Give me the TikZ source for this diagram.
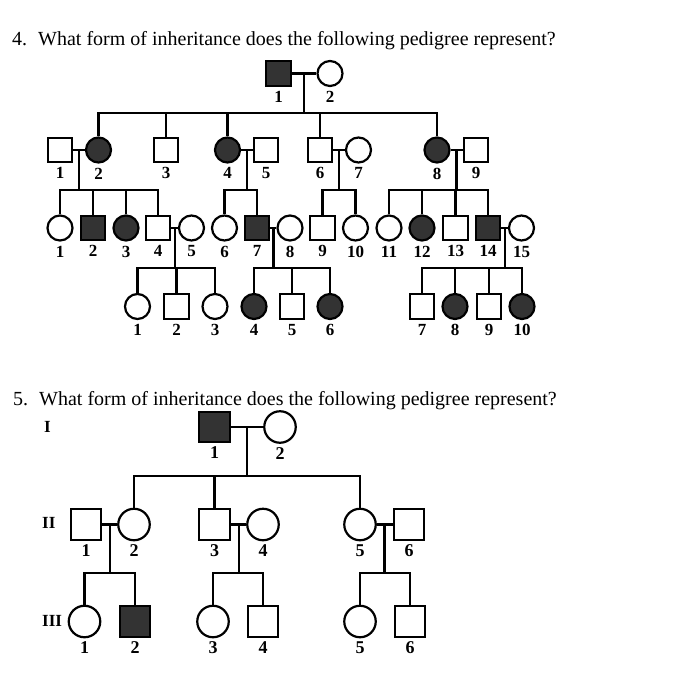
\documentclass[tikz,border=0pt]{standalone}
\usepackage{fontspec}
\setmainfont{Liberation Serif}
\usepackage{tikz}
\usepackage{xcolor}
\usetikzlibrary{calc}

\tikzset{
  person/.style={draw, line width=2.2pt, inner sep=0pt, label distance=0pt},
  male/.style={person, rectangle, minimum size=24.5pt},
  female/.style={person, circle, minimum size=25pt},
  bigmale/.style={person, rectangle, minimum size=30.5pt},
  bigfemale/.style={person, circle, minimum size=31.5pt},
  affected/.style={fill=black!80},
  num/.style={font=\fontsize{17}{17}\selectfont\bfseries, inner sep=1pt, yshift=-3pt},
  bignum/.style={font=\fontsize{18}{18}\selectfont\bfseries, inner sep=1pt, yshift=-2.5pt},
  gen/.style={font=\fontsize{17}{17}\selectfont\bfseries, inner sep=0pt, anchor=west},
  question/.style={font=\fontsize{20}{24}\selectfont, inner sep=0pt, anchor=base west},
  line/.style={line width=2.2pt}
}

\begin{document}
\begin{tikzpicture}[x=1pt, y=-1pt]
    \useasboundingbox (0,0) rectangle (700,695);

    % question 4
    \node[question] (q4) at (12,46) {4.\hspace{0.55em}What form of inheritance does the following pedigree represent?};

    \node[male, affected, label={[num]below:1}] (A1) at (278.5,73.5) {};
    \node[female, label={[num]below:2}] (A2) at (330,73.5) {};

    \node[male, label={[num]below:1}] (B1) at (60,150) {};
    \node[female, affected, label={[num]below:2}] (B2) at (98.5,150) {};
    \node[male, label={[num]below:3}] (B3) at (166,150) {};
    \node[female, affected, label={[num]below:4}] (B4) at (227.5,150) {};
    \node[male, label={[num]below:5}] (B5) at (266,150) {};
    \node[male, label={[num]below:6}] (B6) at (320,150) {};
    \node[female, label={[num]below:7}] (B7) at (358.5,150) {};
    \node[female, affected, label={[num]below:8}] (B8) at (437,150) {};
    \node[male, label={[num]below:9}] (B9) at (476,150) {};

    \node[female, label={[num]below:1}] (C1) at (60,228) {};
    \node[male, affected, label={[num]below:2}] (C2) at (93,228) {};
    \node[female, affected, label={[num]below:3}] (C3) at (126,228) {};
    \node[male, label={[num]below:4}] (C4) at (158,228) {};
    \node[female, label={[num]below:5}] (C5) at (191.5,228) {};
    \node[female, label={[num]below:6}] (C6) at (224.5,228) {};
    \node[male, affected, label={[num]below:7}] (C7) at (257,228) {};
    \node[female, label={[num]below:8}] (C8) at (290,228) {};
    \node[male, label={[num]below:9}] (C9) at (322.5,228) {};
    \node[female, label={[num]below:10}] (C10) at (355.5,228) {};
    \node[female, label={[num]below:11}] (C11) at (389,228) {};
    \node[female, affected, label={[num]below:12}] (C12) at (422,228) {};
    \node[male, label={[num]below:13}] (C13) at (455.5,228) {};
    \node[male, affected, label={[num]below:14}] (C14) at (488,228) {};
    \node[female, label={[num]below:15}] (C15) at (521.5,228) {};

    \node[female, label={[num]below:1}] (D1) at (137.5,306.5) {};
    \node[male, label={[num]below:2}] (D2) at (176.5,306.5) {};
    \node[female, label={[num]below:3}] (D3) at (215,306.5) {};
    \node[female, affected, label={[num]below:4}] (D4) at (254,306.5) {};
    \node[male, label={[num]below:5}] (D5) at (292,306.5) {};
    \node[female, affected, label={[num]below:6}] (D6) at (330,306.5) {};
    \node[male, label={[num]below:7}] (D7) at (422,306.5) {};
    \node[female, affected, label={[num]below:8}] (D8) at (455,306.5) {};
    \node[male, label={[num]below:9}] (D9) at (489,306.5) {};
    \node[female, affected, label={[num]below:10}] (D10) at (522,306.5) {};

    \coordinate (barA) at (0,113);
    \coordinate (barB) at (0,190);
    \coordinate (barC) at (0,268);

    % couples and drops
    \coordinate (mA) at ($(A1)!.5!(A2)$);
    \coordinate (mB12) at ($(B1)!.5!(B2)$);
    \coordinate (mB45) at ($(B4)!.5!(B5)$);
    \coordinate (mB67) at ($(B6)!.5!(B7)$);
    \coordinate (mB89) at ($(B8)!.5!(B9)$);
    \coordinate (mC45) at ($(C4)!.5!(C5)$);
    \coordinate (mC78) at ($(C7)!.5!(C8)$);
    \coordinate (mC1415) at ($(C14)!.5!(C15)$);

    \draw[line] (A1) -- (A2);
    \draw[line] (B1) -- (B2);
    \draw[line] (B4) -- (B5);
    \draw[line] (B6) -- (B7);
    \draw[line] (B8) -- (B9);
    \draw[line] (C4) -- (C5);
    \draw[line] (C7) -- (C8);
    \draw[line] (C14) -- (C15);

    \draw[line] (mA) -- (mA |- barA);
    \draw[line] (B2.north) |- (B8 |- barA) -- (B8.north);
    \draw[line] (B3.north) -- (B3 |- barA);
    \draw[line] (B4.north) -- (B4 |- barA);
    \draw[line] (B6.north) -- (B6 |- barA);

    \draw[line] (mB12) -- (mB12 |- barB);
    \draw[line] (C1.north) |- (C4 |- barB) -- (C4.north);
    \draw[line] (C2.north) -- (C2 |- barB);
    \draw[line] (C3.north) -- (C3 |- barB);

    \draw[line] (mB45) -- (mB45 |- barB);
    \draw[line] (C6.north) |- (C7 |- barB) -- (C7.north);

    \draw[line] (mB67) -- (mB67 |- barB);
    \draw[line] (C9.north) |- (C10 |- barB) -- (C10.north);

    \draw[line] (mB89) -- (mB89 |- barB);
    \draw[line] (C11.north) |- (C14 |- barB) -- (C14.north);
    \draw[line] (C12.north) -- (C12 |- barB);
    \draw[line] (C13.north) -- (C13 |- barB);

    \draw[line] (mC45) -- (mC45 |- barC);
    \draw[line] (D1.north) |- (D3 |- barC) -- (D3.north);
    \draw[line] (D2.north) -- (D2 |- barC);

    \draw[line] (mC78) -- (mC78 |- barC);
    \draw[line] (D4.north) |- (D6 |- barC) -- (D6.north);
    \draw[line] (D5.north) -- (D5 |- barC);

    \draw[line] (mC1415) -- (mC1415 |- barC);
    \draw[line] (D7.north) |- (D10 |- barC) -- (D10.north);
    \draw[line] (D8.north) -- (D8 |- barC);
    \draw[line] (D9.north) -- (D9 |- barC);

    % question 5
    \node[question] (q5) at (13,405) {5.\hspace{0.55em}What form of inheritance does the following pedigree represent?};

    \node[gen] (gI) at (44,427) {I};
    \node[gen] (gII) at (42,523) {II};
    \node[gen] (gIII) at (42,621) {III};

    \node[bigmale, affected, label={[bignum]below:1}] (P1) at (214.5,427) {};
    \node[bigfemale, label={[bignum]below:2}] (P2) at (280,427) {};

    \node[bigmale, label={[bignum]below:1}] (Q1) at (86,524.5) {};
    \node[bigfemale, label={[bignum]below:2}] (Q2) at (134,524.5) {};
    \node[bigmale, label={[bignum]below:3}] (Q3) at (214.5,524.5) {};
    \node[bigfemale, label={[bignum]below:4}] (Q4) at (263,524.5) {};
    \node[bigfemale, label={[bignum]below:5}] (Q5) at (360,524.5) {};
    \node[bigmale, label={[bignum]below:6}] (Q6) at (409,524.5) {};

    \node[bigfemale, label={[bignum]below:1}] (R1) at (84.5,621.5) {};
    \node[bigmale, affected, label={[bignum]below:2}] (R2) at (135,621.5) {};
    \node[bigfemale, label={[bignum]below:3}] (R3) at (213,621.5) {};
    \node[bigmale, label={[bignum]below:4}] (R4) at (263,621.5) {};
    \node[bigfemale, label={[bignum]below:5}] (R5) at (360,621.5) {};
    \node[bigmale, label={[bignum]below:6}] (R6) at (410,621.5) {};

    \coordinate (barP) at (0,476);
    \coordinate (barQ) at (0,573);

    \coordinate (mP) at ($(P1)!.5!(P2)$);
    \coordinate (mQ12) at ($(Q1)!.5!(Q2)$);
    \coordinate (mQ34) at ($(Q3)!.5!(Q4)$);
    \coordinate (mQ56) at ($(Q5)!.5!(Q6)$);

    \draw[line] (P1) -- (P2);
    \draw[line] (Q1) -- (Q2);
    \draw[line] (Q3) -- (Q4);
    \draw[line] (Q5) -- (Q6);

    \draw[line] (mP) -- (mP |- barP);
    \draw[line] (Q2.north) |- (Q5 |- barP) -- (Q5.north);
    \draw[line] (Q3.north) -- (Q3 |- barP);

    \draw[line] (mQ12) -- (mQ12 |- barQ);
    \draw[line] (R1.north) |- (R2 |- barQ) -- (R2.north);
    \draw[line] (mQ34) -- (mQ34 |- barQ);
    \draw[line] (R3.north) |- (R4 |- barQ) -- (R4.north);
    \draw[line] (mQ56) -- (mQ56 |- barQ);
    \draw[line] (R5.north) |- (R6 |- barQ) -- (R6.north);
\end{tikzpicture}
\end{document}
